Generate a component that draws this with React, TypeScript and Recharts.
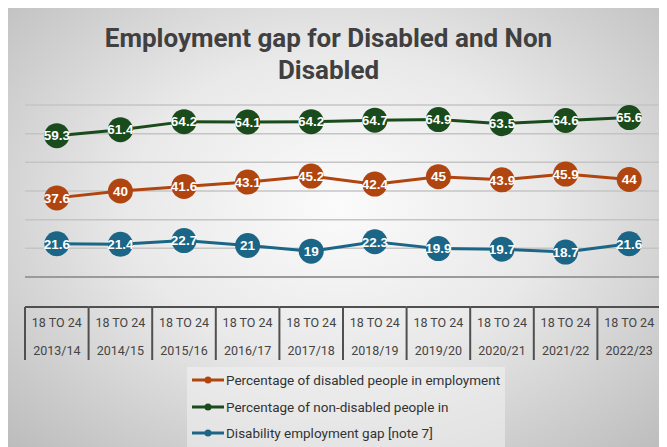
import { CartesianGrid, LabelList, Legend, Line, LineChart, XAxis, YAxis } from "recharts"

const ageBands = ["18 TO 24", "18 TO 24", "18 TO 24", "18 TO 24", "18 TO 24", "18 TO 24", "18 TO 24", "18 TO 24", "18 TO 24", "18 TO 24"]
const years = ["2013/14", "2014/15", "2015/16", "2016/17", "2017/18", "2018/19", "2019/20", "2020/21", "2021/22", "2022/23"]
const disabled = [37.6, 40, 41.6, 43.1, 45.2, 42.4, 45, 43.9, 45.9, 44]
const nonDisabled = [59.3, 61.4, 64.2, 64.1, 64.2, 64.7, 64.9, 63.5, 64.6, 65.6]
const gap = [21.6, 21.4, 22.7, 21, 19, 22.3, 19.9, 19.7, 18.7, 21.6]
const seriesNames = [
  "Percentage of disabled people in employment",
  "Percentage of non-disabled people in",
  "Disability employment gap [note 7]",
]
const yTicks = [10, 20, 30, 40, 50, 60, 70]

const data = years.map((year, i) => ({
  year,
  disabled: disabled[i],
  nonDisabled: nonDisabled[i],
  gap: gap[i],
}))

const W = 659
const H = 439
const margin = { top: 97, right: 6, left: 17, bottom: 80 }
const cellW = (W - margin.left - margin.right) / years.length

const ORANGE = "#b0450f"
const GREEN = "#1a4b1c"
const BLUE = "#1b6686"

function TableTick(props: any) {
  const { x, y, payload, index } = props
  const left = x - cellW / 2
  const right = x + cellW / 2
  const top = y + 30
  const bottom = y + 83
  return (
    <g>
      <line x1={left} x2={right} y1={top} y2={top} stroke="#505050" strokeWidth={2} />
      <line x1={left} x2={left} y1={top} y2={bottom} stroke="#505050" strokeWidth={2} />
      {index === years.length - 1 && (
        <line x1={right} x2={right} y1={top} y2={bottom} stroke="#505050" strokeWidth={2} />
      )}
      <text x={x} y={top + 20} textAnchor="middle" fontSize={12.5} fill="#444" fontFamily="Roboto, sans-serif">
        {ageBands[index]}
      </text>
      <text x={x} y={top + 48} textAnchor="middle" fontSize={12.5} fill="#444" fontFamily="Roboto, sans-serif">
        {payload.value}
      </text>
    </g>
  )
}

function LegendBox(props: any) {
  const items = [...(props.payload || [])].sort(
    (a: any, b: any) => seriesNames.indexOf(a.value) - seriesNames.indexOf(b.value),
  )
  return (
    <div style={{ background: "rgba(242,242,242,0.55)", padding: "0 4px" }}>
      {items.map((entry: any) => (
        <div
          key={entry.value}
          style={{
            display: "flex",
            alignItems: "center",
            height: 26.5,
            fontSize: 13.5,
            whiteSpace: "nowrap",
            color: "#333",
            fontFamily: "Roboto, sans-serif",
          }}
        >
          <svg width={34} height={10} style={{ marginRight: 1 }}>
            <line x1={1} x2={33} y1={5} y2={5} stroke={entry.color} strokeWidth={3} />
            <circle cx={17} cy={5} r={3.5} fill={entry.color} />
          </svg>
          <span>{entry.value}</span>
        </div>
      ))}
    </div>
  )
}

const labelStyle = { fill: "#fff", fontSize: 13.5, fontWeight: 700, fontFamily: "Liberation Sans, Arial, sans-serif" }

export default function App() {
  return (
    <div
      style={{
        position: "relative",
        width: W,
        height: H,
        background: "radial-gradient(ellipse farthest-corner at 50% 45%, #fbfbfb 0%, #e9e9e9 45%, #bcbcbc 100%)",
      }}
    >
      <div
        style={{
          position: "absolute",
          top: 14,
          left: 0,
          width: W - 18,
          textAlign: "center",
          fontFamily: "Roboto, sans-serif",
          fontWeight: 700,
          fontSize: 26,
          lineHeight: "32px",
          color: "#404040",
        }}
      >
        Employment gap for Disabled and Non
        <br />
        Disabled
      </div>
      <LineChart width={W} height={H} data={data} margin={margin} style={{ position: "absolute", top: 0, left: 0 }}>
        <CartesianGrid vertical={false} stroke="#c4c4c4" strokeWidth={1.5} />
        <YAxis hide domain={[10, 70]} ticks={yTicks} />
        <XAxis
          dataKey="year"
          height={90}
          interval={0}
          tickSize={0}
          tickMargin={0}
          tickLine={false}
          axisLine={{ stroke: "#9a9a9a", strokeWidth: 2 }}
          padding={{ left: cellW / 2, right: cellW / 2 }}
          tick={<TableTick />}
        />
        <Legend
          layout="horizontal"
          verticalAlign="middle"
          align="center"
          content={<LegendBox />}
          wrapperStyle={{ top: 359, left: 179, width: 318, height: 78 }}
        />
        <Line
          dataKey="disabled"
          name={seriesNames[0]}
          stroke={ORANGE}
          strokeWidth={3}
          dot={{ r: 12.5, fill: ORANGE, stroke: "none" }}
          activeDot={false}
          isAnimationActive={false}
        >
          <LabelList dataKey="disabled" position="center" style={labelStyle} />
        </Line>
        <Line
          dataKey="nonDisabled"
          name={seriesNames[1]}
          stroke={GREEN}
          strokeWidth={3}
          dot={{ r: 12.5, fill: GREEN, stroke: "none" }}
          activeDot={false}
          isAnimationActive={false}
        >
          <LabelList dataKey="nonDisabled" position="center" style={labelStyle} />
        </Line>
        <Line
          dataKey="gap"
          name={seriesNames[2]}
          stroke={BLUE}
          strokeWidth={3}
          dot={{ r: 12.5, fill: BLUE, stroke: "none" }}
          activeDot={false}
          isAnimationActive={false}
        >
          <LabelList dataKey="gap" position="center" style={labelStyle} />
        </Line>
      </LineChart>
    </div>
  )
}
